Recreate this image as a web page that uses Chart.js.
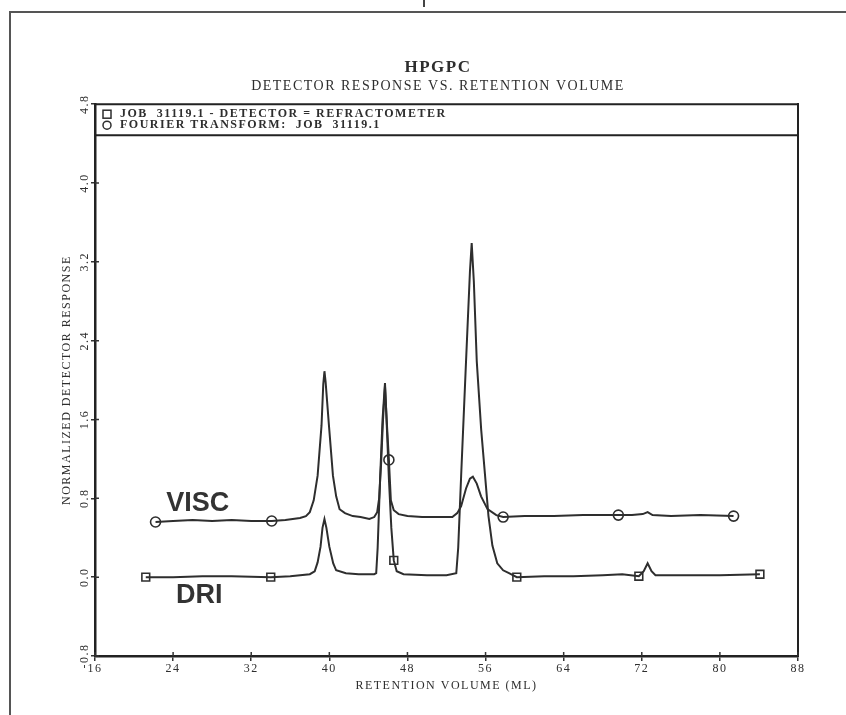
<!DOCTYPE html>
<html>
<head>
<meta charset="utf-8">
<script src="https://cdn.jsdelivr.net/npm/chart.js@4"></script>
<style>
  html, body { margin: 0; padding: 0; background: #fff; }
  #wrap { position: relative; width: 846px; height: 715px; overflow: hidden; }
  #frame { position: absolute; left: 9px; top: 11px; width: 900px; height: 800px;
           border-top: 2px solid #555; border-left: 2px solid #555; }
  #mark { position: absolute; left: 423px; top: 0; width: 2px; height: 7px; background: #444; }
  canvas { position: absolute; left: 0; top: 0; }
</style>
</head>
<body>
<div id="wrap">
  <div id="frame"></div>
  <div id="mark"></div>
  <canvas id="chart" width="846" height="715"></canvas>
</div>
<script>
// VISC trace (Fourier transform)
const viscX = [22.2, 24, 26, 28, 30, 32, 34.1, 35.5, 37.0, 37.6, 38.0, 38.4, 38.8, 39.2, 39.38, 39.5, 39.62,
  39.96, 40.37, 40.7, 41.05, 41.6, 42.4, 43.2, 44.1, 44.6, 44.9, 45.1, 45.3, 45.5, 45.7, 45.9, 46.1, 46.3,
  46.6, 47.1, 48.0, 49.5, 51, 52.6, 53.1, 53.5, 54.0, 54.4, 54.7, 55.1, 55.54, 56.2, 57.1, 57.8, 60, 63, 66,
  69.6, 71, 72.1, 72.6, 73.1, 75, 78, 81.4];
const viscY = [0.56, 0.57, 0.58, 0.57, 0.58, 0.57, 0.57, 0.58, 0.60, 0.62, 0.66, 0.78, 1.03, 1.54, 1.96, 2.09, 1.98,
  1.54, 1.03, 0.82, 0.69, 0.65, 0.62, 0.61, 0.59, 0.61, 0.66, 0.80, 1.15, 1.60, 1.94, 1.55, 1.19, 0.78,
  0.68, 0.64, 0.62, 0.61, 0.61, 0.61, 0.65, 0.72, 0.90, 1.00, 1.02, 0.95, 0.82, 0.69, 0.63, 0.61, 0.62, 0.62, 0.63,
  0.63, 0.63, 0.64, 0.66, 0.63, 0.62, 0.63, 0.62];

// DRI trace (refractometer)
const driX = [21.2, 24, 27, 30, 34.0, 36, 38.0, 38.5, 38.8, 39.1, 39.3, 39.5, 39.7, 40.0, 40.4, 40.7, 41.7, 43,
  44.6, 44.8, 44.95, 45.2, 45.45, 45.7, 45.9, 46.1, 46.35, 46.6, 46.9, 47.6, 50, 52, 53.0, 53.2, 53.5, 54.0,
  54.4, 54.58, 54.8, 55.1, 55.55, 55.95, 56.3, 56.7, 57.2, 57.8, 58.4, 59.2, 62, 65, 68, 70, 71.7, 72.2, 72.6, 73.0,
  73.4, 76, 80, 84.1];
const driY = [0.00, 0.00, 0.01, 0.01, 0.00, 0.01, 0.03, 0.06, 0.15, 0.31, 0.50, 0.59, 0.50, 0.31, 0.14, 0.07, 0.04, 0.03,
  0.03, 0.04, 0.30, 1.00, 1.60, 1.97, 1.50, 1.00, 0.50, 0.17, 0.06, 0.03, 0.02, 0.02, 0.04, 0.30, 1.03, 2.19,
  3.10, 3.39, 3.00, 2.19, 1.50, 1.03, 0.62, 0.32, 0.14, 0.07, 0.04, 0.00, 0.01, 0.01, 0.02, 0.03, 0.01, 0.06, 0.14, 0.06,
  0.02, 0.02, 0.02, 0.03];

// plotter symbols
const viscMarkX = [22.2, 34.1, 46.1, 57.8, 69.6, 81.4];
const viscMarkY = [0.56, 0.57, 1.19, 0.61, 0.63, 0.62];
const driMarkX = [21.2, 34.0, 46.6, 59.2, 71.7, 84.1];
const driMarkY = [0.00, 0.00, 0.17, 0.00, 0.01, 0.03];

const legendLines = ["JOB  31119.1 - DETECTOR = REFRACTOMETER", "FOURIER TRANSFORM:  JOB  31119.1"];
const curveLabels = [
  { text: "VISC", x: 23.3, y: 0.75 },
  { text: "DRI", x: 24.3, y: -0.19 }
];

const ink = "#2e2e2e";
const serif = "'Liberation Serif', 'Times New Roman', serif";

function pts(xs, ys) {
  return xs.map((x, i) => ({ x: x, y: ys[i] }));
}

// typewriter-like spacing for the chart texts
const spacingPlugin = {
  id: "spacing",
  beforeDraw(chart) { chart.ctx.letterSpacing = "1.5px"; },
  afterDraw(chart) { chart.ctx.letterSpacing = "0px"; }
};

// legend box on top of the plot, inner tick marks and the VISC / DRI names
const decorPlugin = {
  id: "decor",
  afterDatasetsDraw(chart) {
    const { ctx, chartArea: a, scales } = chart;
    ctx.save();
    ctx.strokeStyle = "#222";
    ctx.lineWidth = 2;
    ctx.beginPath();
    ctx.moveTo(a.left, a.top); ctx.lineTo(a.right, a.top);
    ctx.moveTo(a.left, a.top + 31); ctx.lineTo(a.right, a.top + 31);
    ctx.stroke();

    // plotter ticks also reach a little inside the frame
    ctx.lineWidth = 1.5;
    ctx.strokeStyle = "#333";
    ctx.beginPath();
    scales.x.ticks.forEach(t => {
      const px = scales.x.getPixelForValue(t.value);
      ctx.moveTo(px, a.bottom); ctx.lineTo(px, a.bottom - 4);
    });
    scales.y.ticks.forEach(t => {
      const py = scales.y.getPixelForValue(t.value);
      if (py > a.top + 31) { ctx.moveTo(a.left, py); ctx.lineTo(a.left + 4, py); }
    });
    ctx.stroke();

    // legend symbols
    ctx.lineWidth = 1.5;
    ctx.strokeStyle = ink;
    ctx.strokeRect(a.left + 8, a.top + 6, 8, 8);
    ctx.beginPath();
    ctx.arc(a.left + 12, a.top + 21, 4, 0, Math.PI * 2);
    ctx.stroke();

    ctx.fillStyle = ink;
    ctx.letterSpacing = "1.5px";
    ctx.font = "bold 12px " + serif;
    ctx.textAlign = "left";
    ctx.textBaseline = "middle";
    ctx.fillText(legendLines[0], a.left + 25, a.top + 10);
    ctx.fillText(legendLines[1], a.left + 25, a.top + 21);

    ctx.letterSpacing = "0px";
    ctx.font = "bold 27px 'Liberation Sans', Arial, sans-serif";
    ctx.fillStyle = "#333";
    curveLabels.forEach(l => {
      ctx.fillText(l.text, scales.x.getPixelForValue(l.x), scales.y.getPixelForValue(l.y));
    });
    ctx.restore();
  }
};

new Chart(document.getElementById("chart"), {
  type: "scatter",
  data: {
    datasets: [
      {
        label: "VISC",
        data: pts(viscX, viscY),
        showLine: true,
        borderColor: ink,
        borderWidth: 2,
        pointRadius: 0,
        tension: 0
      },
      {
        label: "DRI",
        data: pts(driX, driY),
        showLine: true,
        borderColor: ink,
        borderWidth: 2,
        pointRadius: 0,
        tension: 0
      },
      {
        label: "VISC symbols",
        data: pts(viscMarkX, viscMarkY),
        pointStyle: "circle",
        pointRadius: 5,
        borderWidth: 1.6,
        borderColor: ink,
        backgroundColor: "#fff"
      },
      {
        label: "DRI symbols",
        data: pts(driMarkX, driMarkY),
        pointStyle: "rect",
        pointRadius: 5.5,
        borderWidth: 1.6,
        borderColor: ink,
        backgroundColor: "#fff"
      }
    ]
  },
  options: {
    responsive: false,
    animation: false,
    layout: { padding: { left: 35, right: 5, top: 0, bottom: 14 } },
    plugins: {
      legend: { display: false },
      tooltip: { enabled: false },
      title: {
        display: true,
        text: "HPGPC",
        color: ink,
        font: { family: serif, size: 17, weight: "bold", lineHeight: 1.2 },
        padding: { top: 57, bottom: 0 }
      },
      subtitle: {
        display: true,
        text: "DETECTOR RESPONSE VS. RETENTION VOLUME",
        color: ink,
        font: { family: serif, size: 14, lineHeight: 1.2 },
        padding: { top: 1, bottom: 9 }
      }
    },
    scales: {
      x: {
        type: "linear",
        min: 16,
        max: 88,
        afterFit: s => { s.height = 45; },
        border: { display: true, color: "#222", width: 2.5 },
        grid: { drawOnChartArea: false, drawTicks: true, tickLength: 5, color: "#333", lineWidth: 1.5 },
        ticks: { stepSize: 8, padding: 1, color: ink, font: { family: serif, size: 12 } },
        title: {
          display: true,
          text: "RETENTION VOLUME (ML)",
          color: ink,
          font: { family: serif, size: 12, lineHeight: 1.2 },
          padding: { top: 0, bottom: 8 }
        }
      },
      y: {
        min: -0.8,
        max: 4.8,
        afterFit: s => { s.width = 60; },
        border: { display: true, color: "#222", width: 2.5 },
        grid: { drawOnChartArea: false, drawTicks: true, tickLength: 4, color: "#333", lineWidth: 1.5 },
        ticks: {
          stepSize: 0.8,
          minRotation: 90,
          maxRotation: 90,
          crossAlign: "center",
          padding: -3,
          color: ink,
          font: { family: serif, size: 12 },
          callback: v => (Math.abs(v) < 1e-9 ? 0 : v).toFixed(1)
        },
        title: {
          display: true,
          text: "NORMALIZED DETECTOR RESPONSE",
          color: ink,
          font: { family: serif, size: 12, lineHeight: 1.2 },
          padding: { top: 25, bottom: 0 }
        }
      },
      y2: {
        position: "right",
        afterFit: s => { s.width = 43; },
        border: { display: true, color: "#222", width: 2 },
        grid: { display: false },
        ticks: { display: false }
      }
    }
  },
  plugins: [spacingPlugin, decorPlugin]
});
</script>
</body>
</html>
